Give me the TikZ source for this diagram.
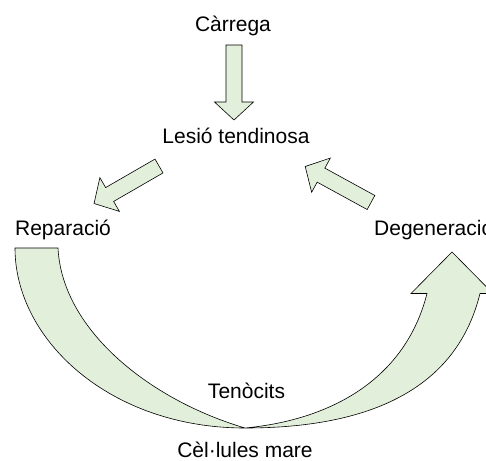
\documentclass[tikz,border=0pt]{standalone}
\usepackage{fontspec}
\setmainfont{Liberation Sans}
\definecolor{arrowfill}{RGB}{226,240,219}
\tikzset{
  lbl/.style={font=\fontsize{21}{25}\selectfont, inner sep=0pt, anchor=base},
  blk/.style={draw=black, line width=0.6pt, fill=arrowfill, line join=miter},
  pics/blockarrow/.style={code={
    \path[blk] (0,-8) -- (57,-8) -- (57,-19.5) -- (75,0) -- (57,19.5) -- (57,8) -- (0,8) -- cycle;
  }}
}
\begin{document}
\begin{tikzpicture}[x=1pt,y=-1pt]
\useasboundingbox (0,0) rectangle (486,460);
\clip (0,0) rectangle (486,460);
% labels
\node[lbl] (carrega) at (233,32) {Càrrega};
\node[lbl] (lesio) at (236,143) {Lesió tendinosa};
\node[lbl] (rep) at (63,235.5) {Reparació};
\node[lbl, anchor=base west] (deg) at (374,235.5) {Degeneració};
\node[lbl] (teno) at (246.5,398.5) {Tenòcits};
\node[lbl] (cel) at (245,457) {Cèl·lules mare};
% straight block arrows
\pic[shift={(234,45)}, rotate=-90] {blockarrow};
\pic[shift={(159,166)}, rotate=210] {blockarrow};
\pic[shift={(371,202.5)}, rotate=151.3] {blockarrow};
% big curved arrow
\coordinate (bot) at (245,428);
\path[blk] (15,248) -- (58,248)
  .. controls (62,330) and (150,400) .. (bot)
  .. controls (330,420) and (405,380) .. (427,293.5)
  -- (411,293.5) -- (452,252) -- (493,293.5) -- (480,293.5)
  .. controls (455,395) and (360,428) .. (bot)
  .. controls (110,428) and (15,340) .. (15,248) -- cycle;
\end{tikzpicture}
\end{document}
